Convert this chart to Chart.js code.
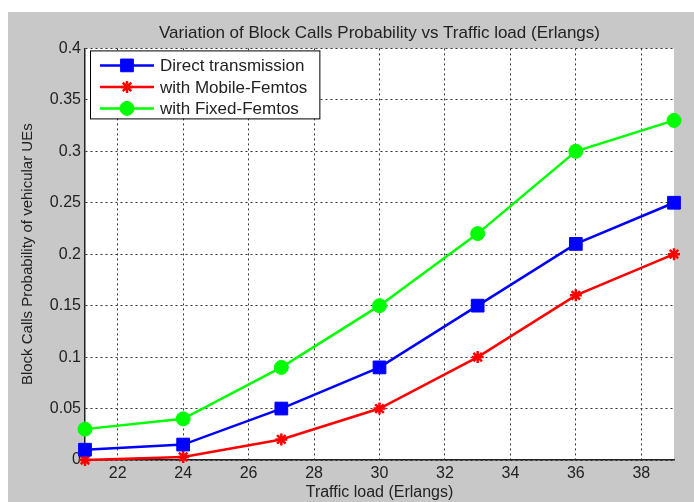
<!DOCTYPE html>
<html>
<head>
<meta charset="utf-8">
<script src="https://cdn.jsdelivr.net/npm/chart.js@4.4.0/dist/chart.umd.min.js"></script>
<style>
  html, body { margin: 0; padding: 0; background: #fff; }
  #wrap { width: 694px; height: 502px; }
</style>
</head>
<body>
<div id="wrap"><canvas id="chart" width="694" height="502"></canvas></div>
<script>
// values
const trafficLoad = [21, 24, 27, 30, 33, 36, 39];
const directTransmission = [0.01, 0.015, 0.05, 0.09, 0.15, 0.21, 0.25];
const mobileFemtos = [0, 0.003, 0.02, 0.05, 0.10, 0.16, 0.20];
const fixedFemtos = [0.03, 0.04, 0.09, 0.15, 0.22, 0.30, 0.33];
const xTickValues = [22, 24, 26, 28, 30, 32, 34, 36, 38];
const seriesLabels = ['Direct transmission', 'with Mobile-Femtos', 'with Fixed-Femtos'];

const FONT = '"Liberation Sans", Arial, Helvetica, sans-serif';
const TEXT = '#222';

const toPoints = ys => trafficLoad.map((x, i) => ({ x: x, y: ys[i] }));

// grey figure background + white axes box
const figureBg = {
  id: 'figureBg',
  beforeDraw(chart) {
    const { ctx, chartArea: a } = chart;
    ctx.save();
    ctx.fillStyle = '#fff';
    ctx.fillRect(0, 0, chart.width, chart.height);
    ctx.fillStyle = '#c8c8c8';
    ctx.fillRect(8, 12, chart.width - 8, chart.height - 12);
    ctx.fillStyle = '#fff';
    ctx.fillRect(a.left, a.top, a.right - a.left, a.bottom - a.top);
    ctx.restore();
  }
};

// matlab style legend: line with marker in the middle, boxed
const boxLegend = {
  id: 'boxLegend',
  afterDatasetsDraw(chart) {
    const { ctx, chartArea: a } = chart;
    const sets = chart.data.datasets;
    ctx.save();
    ctx.font = '17px ' + FONT;
    const tw = Math.max(...sets.map(d => ctx.measureText(d.label).width));
    const x0 = a.left + 5, y0 = a.top + 2, rowH = 21.5;
    const w = 70 + tw + 12, h = 15 + (sets.length - 1) * rowH + 10;
    ctx.fillStyle = '#fff';
    ctx.fillRect(x0, y0, w, h);
    ctx.strokeStyle = '#000';
    ctx.lineWidth = 1;
    ctx.strokeRect(x0 + 0.5, y0 + 0.5, w, h);
    sets.forEach((d, i) => {
      const cy = y0 + 15 + i * rowH;
      ctx.strokeStyle = d.borderColor;
      ctx.lineWidth = d.borderWidth;
      ctx.beginPath();
      ctx.moveTo(x0 + 10, cy);
      ctx.lineTo(x0 + 64, cy);
      ctx.stroke();
      ctx.fillStyle = d.backgroundColor;
      ctx.lineWidth = d.pointBorderWidth;
      Chart.helpers.drawPoint(ctx, { pointStyle: d.pointStyle, radius: d.pointRadius, borderWidth: d.pointBorderWidth, rotation: 0 }, x0 + 37, cy);
      ctx.fillStyle = TEXT;
      ctx.textBaseline = 'middle';
      ctx.textAlign = 'left';
      ctx.fillText(d.label, x0 + 70, cy + 1);
    });
    ctx.restore();
  }
};

new Chart(document.getElementById('chart'), {
  type: 'line',
  data: {
    datasets: [
      {
        label: seriesLabels[0], data: toPoints(directTransmission),
        borderColor: '#0000ff', backgroundColor: '#0000ff', borderWidth: 2.5,
        pointStyle: 'rect', pointRadius: 9, pointBorderWidth: 1, clip: false
      },
      {
        label: seriesLabels[1], data: toPoints(mobileFemtos),
        borderColor: '#ff0000', backgroundColor: '#ff0000', borderWidth: 2.5,
        pointStyle: 'star', pointRadius: 6, pointBorderWidth: 2.5, clip: false
      },
      {
        label: seriesLabels[2], data: toPoints(fixedFemtos),
        borderColor: '#00ff00', backgroundColor: '#00ff00', borderWidth: 2.5,
        pointStyle: 'circle', pointRadius: 7, pointBorderWidth: 1, clip: false
      }
    ]
  },
  options: {
    responsive: false,
    animation: false,
    devicePixelRatio: 1,
    layout: { padding: { left: 0, right: 20, top: 12, bottom: 0 } },
    plugins: {
      legend: { display: false },
      tooltip: { enabled: false },
      title: {
        display: true,
        text: 'Variation of Block Calls Probability vs Traffic load (Erlangs)',
        fullSize: false,
        color: TEXT,
        font: { size: 17, weight: 'normal', family: FONT },
        padding: { top: 11, bottom: 5 }
      }
    },
    scales: {
      x: {
        type: 'linear', min: 21, max: 39,
        afterBuildTicks: s => { s.ticks = xTickValues.map(v => ({ value: v })); },
        afterFit: s => { s.height = 42; },
        grid: { color: '#333', lineWidth: 1, drawTicks: false },
        border: { color: '#222', width: 1.5, dash: [2, 3] },
        ticks: { color: TEXT, font: { size: 16, family: FONT }, padding: 4, maxRotation: 0, autoSkip: false },
        title: {
          display: true, text: 'Traffic load (Erlangs)', color: TEXT,
          font: { size: 16, family: FONT }, padding: { top: 0, bottom: 0 }
        }
      },
      y: {
        min: 0, max: 0.4,
        afterFit: s => { s.width = 85; },
        grid: { color: '#333', lineWidth: 1, drawTicks: false },
        border: { color: '#222', width: 1.5, dash: [2, 3] },
        ticks: {
          stepSize: 0.05, color: TEXT, font: { size: 16, family: FONT }, padding: 4,
          callback: v => String(+v.toFixed(2))
        },
        title: {
          display: true, text: 'Block Calls Probability of vehicular UEs', color: TEXT,
          font: { size: 15, family: FONT }, padding: { top: 19, bottom: 0 }
        }
      }
    }
  },
  plugins: [figureBg, boxLegend]
});
</script>
</body>
</html>
